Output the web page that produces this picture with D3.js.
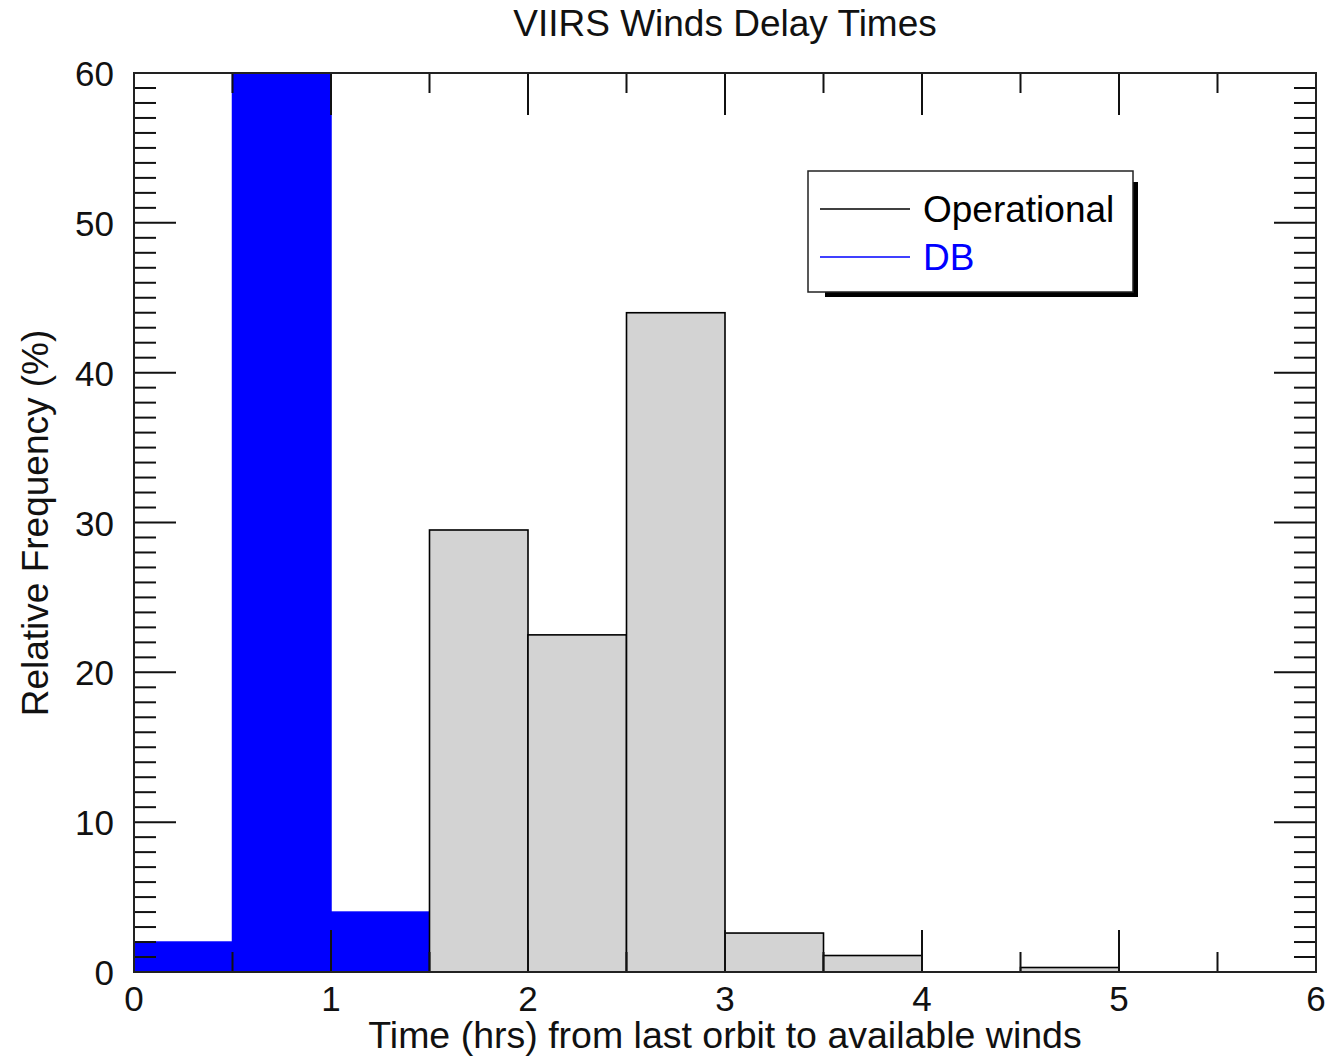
<!DOCTYPE html>
<html><head><meta charset="utf-8">
<script src="https://cdn.jsdelivr.net/npm/d3@7"></script>
<style>body{margin:0;background:#fff}svg{display:block;font-family:"Liberation Sans",Arial,Helvetica,sans-serif}</style>
</head><body>
<svg id="c" width="1343" height="1057"></svg>
<script>
const binStarts = [0, 0.5, 1, 1.5, 2, 2.5, 3, 3.5, 4, 4.5, 5, 5.5];
const binWidth = 0.5;
const operational = [0, 0, 0, 29.5, 22.5, 44, 2.6, 1.1, 0, 0.3, 0, 0];
const db = [2.0, 62, 4.0, 0, 0, 0, 0, 0, 0, 0, 0, 0];
const xTicks = [0, 1, 2, 3, 4, 5, 6];
const yTicks = [0, 10, 20, 30, 40, 50, 60];
const legendLabels = ["Operational", "DB"];

const svg = d3.select("#c");
const L = 134, R = 1316, T = 73, B = 972;
const x = d3.scaleLinear().domain([0, 6]).range([L, R]);
const y = d3.scaleLinear().domain([0, 60]).range([B, T]);

svg.append("defs").append("clipPath").attr("id", "clip")
  .append("rect").attr("x", L).attr("y", T).attr("width", R - L).attr("height", B - T);

const g = svg.append("g").attr("clip-path", "url(#clip)");
g.selectAll("rect.db").data(db.map((v, i) => ({x0: binStarts[i], v})).filter(d => d.v > 0))
  .enter().append("rect").attr("class", "db")
  .attr("x", d => x(d.x0)).attr("width", d => x(d.x0 + binWidth) - x(d.x0))
  .attr("y", d => y(d.v)).attr("height", d => B - y(d.v))
  .attr("fill", "#0000ff").attr("stroke", "#0000ff").attr("stroke-width", 1.5);
g.selectAll("rect.op").data(operational.map((v, i) => ({x0: binStarts[i], v})).filter(d => d.v > 0))
  .enter().append("rect").attr("class", "op")
  .attr("x", d => x(d.x0)).attr("width", d => x(d.x0 + binWidth) - x(d.x0))
  .attr("y", d => y(d.v)).attr("height", d => B - y(d.v))
  .attr("fill", "#d3d3d3").attr("stroke", "#000").attr("stroke-width", 1.6);

// ticks on all four sides
const tk = svg.append("g").attr("stroke", "#111").attr("stroke-width", 2);
const xMinor = d3.range(0, 6.01, 0.5);
xMinor.forEach(v => {
  const major = Math.abs(v - Math.round(v)) < 1e-6;
  const len = major ? 42 : 20;
  tk.append("line").attr("x1", x(v)).attr("x2", x(v)).attr("y1", B).attr("y2", B - len);
  tk.append("line").attr("x1", x(v)).attr("x2", x(v)).attr("y1", T).attr("y2", T + len);
});
d3.range(0, 61, 1).forEach(v => {
  const major = v % 10 === 0;
  const len = major ? 42 : 22;
  tk.append("line").attr("y1", y(v)).attr("y2", y(v)).attr("x1", L).attr("x2", L + len);
  tk.append("line").attr("y1", y(v)).attr("y2", y(v)).attr("x1", R).attr("x2", R - len);
});
svg.append("rect").attr("x", L).attr("y", T).attr("width", R - L).attr("height", B - T)
  .attr("fill", "none").attr("stroke", "#222").attr("stroke-width", 2);

// tick labels
svg.append("g").selectAll("text").data(xTicks).enter().append("text")
  .attr("x", d => x(d)).attr("y", 1011).attr("text-anchor", "middle")
  .attr("font-size", 35).attr("fill", "#111").text(d => d);
svg.append("g").selectAll("text").data(yTicks).enter().append("text")
  .attr("x", 114).attr("y", d => y(d) + 13).attr("text-anchor", "end")
  .attr("font-size", 35).attr("fill", "#111").text(d => d);

// titles
svg.append("text").attr("x", 725).attr("y", 36).attr("text-anchor", "middle")
  .attr("font-size", 37).attr("fill", "#111").text("VIIRS Winds Delay Times");
svg.append("text").attr("x", 725).attr("y", 1048).attr("text-anchor", "middle")
  .attr("font-size", 37.5).attr("fill", "#111").text("Time (hrs) from last orbit to available winds");
svg.append("text").attr("transform", "translate(48,523) rotate(-90)").attr("text-anchor", "middle")
  .attr("font-size", 37).attr("fill", "#111").text("Relative Frequency (%)");

// legend
const lx = 808, ly = 171, lw = 325, lh = 121;
const lg = svg.append("g");
lg.append("rect").attr("x", lx + lw).attr("y", ly + 11).attr("width", 5).attr("height", lh - 6).attr("fill", "#000");
lg.append("rect").attr("x", lx + 17).attr("y", ly + lh).attr("width", lw - 12).attr("height", 5).attr("fill", "#000");
lg.append("rect").attr("x", lx).attr("y", ly).attr("width", lw).attr("height", lh)
  .attr("fill", "#fff").attr("stroke", "#222").attr("stroke-width", 1.5);
const legColors = ["#000", "#0000ff"];
legendLabels.forEach((t, i) => {
  const yy = ly + 38 + i * 48;
  lg.append("line").attr("x1", lx + 12).attr("x2", lx + 102).attr("y1", yy).attr("y2", yy)
    .attr("stroke", legColors[i]).attr("stroke-width", 1.5);
  lg.append("text").attr("x", lx + 115).attr("y", yy + 13).attr("font-size", 37)
    .attr("fill", legColors[i]).text(t);
});
</script>
</body></html>
